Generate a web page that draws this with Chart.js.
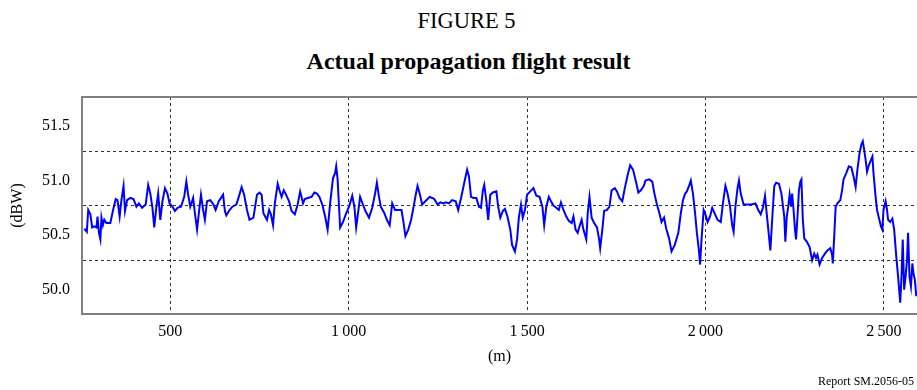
<!DOCTYPE html>
<html>
<head>
<meta charset="utf-8">
<script src="https://cdn.jsdelivr.net/npm/chart.js@4"></script>
<style>
  body { margin: 0; background: #fff; }
  #wrap { position: relative; width: 917px; height: 390px; font-family: 'Liberation Serif', 'Times New Roman', serif; color: #000; }
  #c { position: absolute; left: 0; top: 0; }
  .fig { position: absolute; left: 0; width: 933px; text-align: center; top: 9px; font-size: 22.5px; line-height: 24px; }
  .title { position: absolute; left: 0; width: 937px; text-align: center; top: 48px; font-size: 24px; line-height: 26px; font-weight: bold; }
  .note { position: absolute; right: 3px; top: 374px; font-size: 12px; line-height: 14px; }
</style>
</head>
<body>
<div id="wrap">
  <div class="fig">FIGURE 5</div>
  <div class="title">Actual propagation flight result</div>
  <canvas id="c" width="917" height="390"></canvas>
  <div class="note">Report SM.2056-05</div>
</div>
<script>
// distance along the flight (m)
const distance = [
  259, 266, 270, 276, 281, 287, 293, 296, 300, 304, 307, 311, 315, 321, 332, 339, 347, 352, 358, 363,
  369, 373, 379, 388, 397, 405, 412, 421, 431, 438, 444, 450, 455, 461, 466, 472, 478, 485, 492, 498,
  506, 513, 520, 530, 539, 545, 550, 556, 564, 569, 575, 580, 586, 592, 597, 603, 612, 621, 627, 636,
  648, 653, 657, 666, 674, 685, 692, 700, 707, 715, 722, 733, 743, 750, 756, 761, 771, 777, 782, 788,
  793, 801, 806, 812, 818, 823, 833, 840, 849, 857, 864, 868, 872, 877, 885, 896, 904, 911, 918, 926,
  934, 941, 948, 956, 962, 965, 969, 973, 976, 984, 993, 1002, 1010, 1016, 1021, 1027, 1032, 1040, 1047, 1057,
  1066, 1074, 1079, 1085, 1090, 1100, 1107, 1115, 1122, 1130, 1139, 1148, 1154, 1159, 1167, 1175, 1182, 1188, 1193, 1199,
  1206, 1215, 1227, 1234, 1240, 1249, 1257, 1266, 1273, 1281, 1290, 1300, 1307, 1315, 1324, 1332, 1337, 1343, 1350, 1358,
  1365, 1371, 1376, 1380, 1386, 1391, 1397, 1404, 1414, 1419, 1425, 1432, 1438, 1445, 1453, 1458, 1466, 1472, 1477, 1483,
  1488, 1494, 1500, 1509, 1518, 1526, 1535, 1543, 1548, 1554, 1561, 1567, 1574, 1582, 1589, 1595, 1602, 1610, 1617, 1625,
  1630, 1636, 1642, 1647, 1653, 1658, 1666, 1670, 1675, 1681, 1688, 1696, 1702, 1705, 1711, 1716, 1724, 1731, 1737, 1746,
  1752, 1759, 1767, 1774, 1782, 1789, 1797, 1806, 1812, 1819, 1827, 1832, 1842, 1851, 1857, 1864, 1871, 1877, 1884, 1890,
  1898, 1905, 1914, 1924, 1931, 1937, 1943, 1948, 1954, 1959, 1965, 1971, 1976, 1982, 1985, 1989, 1995, 2000, 2006, 2013,
  2019, 2027, 2034, 2043, 2049, 2056, 2062, 2069, 2075, 2079, 2084, 2090, 2094, 2099, 2107, 2116, 2129, 2140, 2148, 2155,
  2161, 2167, 2172, 2178, 2182, 2187, 2193, 2198, 2206, 2213, 2221, 2224, 2228, 2232, 2236, 2240, 2243, 2247, 2251, 2254,
  2258, 2262, 2266, 2269, 2273, 2277, 2284, 2292, 2299, 2305, 2310, 2314, 2320, 2327, 2335, 2342, 2350, 2355, 2357, 2361,
  2365, 2370, 2378, 2383, 2387, 2395, 2402, 2409, 2415, 2421, 2426, 2432, 2437, 2441, 2445, 2449, 2453, 2458, 2464, 2468,
  2471, 2477, 2481, 2486, 2492, 2496, 2499, 2505, 2509, 2512, 2518, 2524, 2529, 2535, 2540, 2546, 2550, 2553, 2557, 2561,
  2565, 2568, 2572, 2576, 2580, 2583, 2587, 2591
];

// received level (dBW)
const level = [
  50.54, 50.51, 50.71, 50.67, 50.55, 50.56, 50.55, 50.65, 50.50, 50.44, 50.64, 50.57, 50.62, 50.59, 50.59, 50.70, 50.81, 50.80, 50.65, 50.80,
  50.93, 50.70, 50.80, 50.82, 50.81, 50.74, 50.77, 50.73, 50.76, 50.94, 50.86, 50.73, 50.55, 50.74, 50.86, 50.62, 50.79, 50.91, 50.86, 50.77,
  50.74, 50.70, 50.73, 50.74, 50.83, 50.97, 50.85, 50.74, 50.82, 50.68, 50.53, 50.68, 50.85, 50.71, 50.62, 50.79, 50.80, 50.76, 50.71, 50.79,
  50.85, 50.70, 50.66, 50.71, 50.74, 50.76, 50.83, 50.92, 50.85, 50.71, 50.62, 50.64, 50.85, 50.87, 50.85, 50.68, 50.62, 50.71, 50.67, 50.57,
  50.77, 50.95, 50.89, 50.83, 50.89, 50.86, 50.79, 50.70, 50.67, 50.76, 50.88, 50.83, 50.77, 50.81, 50.82, 50.83, 50.87, 50.86, 50.83, 50.76,
  50.65, 50.53, 50.77, 51.00, 51.05, 51.11, 50.99, 50.74, 50.55, 50.60, 50.68, 50.75, 50.84, 50.74, 50.55, 50.70, 50.83, 50.76, 50.70, 50.64,
  50.73, 50.86, 50.96, 50.83, 50.74, 50.68, 50.62, 50.57, 50.77, 50.71, 50.71, 50.71, 50.59, 50.47, 50.53, 50.62, 50.74, 50.85, 50.93, 50.86,
  50.76, 50.79, 50.83, 50.82, 50.81, 50.76, 50.78, 50.77, 50.78, 50.77, 50.80, 50.79, 50.71, 50.82, 50.96, 51.08, 51.02, 50.83, 50.82, 50.82,
  50.74, 50.73, 50.89, 50.94, 50.79, 50.62, 50.85, 50.87, 50.88, 50.74, 50.64, 50.70, 50.72, 50.65, 50.53, 50.39, 50.33, 50.44, 50.64, 50.76,
  50.64, 50.71, 50.85, 50.88, 50.91, 50.84, 50.83, 50.74, 50.57, 50.74, 50.83, 50.79, 50.75, 50.73, 50.71, 50.78, 50.71, 50.65, 50.61, 50.59,
  50.65, 50.53, 50.50, 50.56, 50.62, 50.53, 50.44, 50.68, 50.83, 50.64, 50.59, 50.55, 50.44, 50.36, 50.53, 50.70, 50.71, 50.74, 50.89, 50.91,
  50.88, 50.82, 50.79, 50.91, 51.03, 51.12, 51.08, 50.96, 50.87, 50.89, 50.93, 50.98, 50.99, 50.97, 50.86, 50.76, 50.68, 50.60, 50.64, 50.54,
  50.45, 50.33, 50.39, 50.50, 50.68, 50.80, 50.86, 50.88, 50.93, 50.98, 50.86, 50.68, 50.50, 50.33, 50.21, 50.44, 50.71, 50.67, 50.60, 50.65,
  50.73, 50.67, 50.62, 50.60, 50.77, 50.93, 50.86, 50.74, 50.57, 50.51, 50.74, 50.91, 50.98, 50.86, 50.76, 50.76, 50.76, 50.77, 50.71, 50.67,
  50.73, 50.84, 50.67, 50.47, 50.34, 50.62, 50.93, 50.96, 50.95, 50.86, 50.65, 50.42, 50.65, 50.74, 50.85, 50.74, 50.86, 50.71, 50.53, 50.44,
  50.65, 50.89, 50.97, 50.99, 50.62, 50.45, 50.42, 50.37, 50.25, 50.31, 50.27, 50.30, 50.21, 50.27, 50.31, 50.34, 50.36, 50.30, 50.22, 50.47,
  50.74, 50.77, 50.80, 50.89, 50.99, 51.05, 51.11, 51.10, 51.02, 50.92, 51.08, 51.23, 51.31, 51.34, 51.26, 51.17, 51.06, 51.12, 51.17, 51.20,
  51.05, 50.83, 50.71, 50.64, 50.56, 50.53, 50.71, 50.79, 50.71, 50.62, 50.60, 50.63, 50.53, 50.28, 50.10, 49.86, 50.13, 50.44, 49.98, 50.10,
  50.25, 50.50, 50.10, 50.01, 50.22, 50.13, 50.07, 49.92
];

// axis ticks
const xTicks = [500, 1000, 1500, 2000, 2500];
const yLabelTicks = [50.0, 50.5, 51.0, 51.5];
const yGridTicks = [50.25, 50.75, 51.25];

const serif = "'Liberation Serif', 'Times New Roman', serif";
const points = distance.map((d, i) => ({ x: d, y: level[i] }));

new Chart(document.getElementById('c'), {
  type: 'line',
  data: {
    datasets: [{
      data: points,
      borderColor: '#0000ff',
      borderWidth: 2,
      pointRadius: 0,
      tension: 0,
      fill: false
    }]
  },
  options: {
    responsive: false,
    animation: false,
    layout: { padding: { top: 97, left: 0, right: 0, bottom: 0 } },
    plugins: { legend: { display: false }, tooltip: { enabled: false } },
    scales: {
      x: {
        type: 'linear',
        min: 252.5,
        max: 2593,
        afterFit: s => { s.height = 76; },
        afterBuildTicks: s => { s.ticks = xTicks.map(v => ({ value: v })); },
        grid: { color: '#333', lineWidth: 1, drawTicks: false },
        border: { color: '#808080', width: 2, dash: [3, 3] },
        ticks: {
          color: '#000',
          padding: 8,
          font: { size: 16, family: serif },
          callback: v => v >= 1000 ? Math.floor(v / 1000) + '\u2009' + String(v % 1000).padStart(3, '0') : String(v)
        },
        title: {
          display: true,
          text: '(m)',
          color: '#000',
          font: { size: 16, family: serif },
          padding: { top: 0, bottom: 24 }
        }
      },
      x2: {
        type: 'linear',
        position: 'top',
        min: 252.5,
        max: 2593,
        afterFit: s => { s.height = 0; },
        grid: { display: false, drawTicks: false },
        border: { color: '#808080', width: 2 },
        ticks: { display: false }
      },
      y: {
        min: 49.757,
        max: 51.745,
        afterFit: s => { s.width = 82; },
        afterBuildTicks: s => {
          s.ticks = yLabelTicks.concat(yGridTicks).sort((a, b) => a - b).map(v => ({ value: v }));
        },
        grid: {
          drawTicks: false,
          lineWidth: 1,
          color: ctx => (ctx.tick && yGridTicks.includes(ctx.tick.value)) ? '#333' : 'rgba(0,0,0,0)'
        },
        border: { color: '#808080', width: 2, dash: [3, 3] },
        ticks: {
          color: '#000',
          padding: 12,
          labelOffset: 2,
          font: { size: 16, family: serif },
          callback: v => yLabelTicks.includes(v) ? v.toFixed(1) : ''
        },
        title: {
          display: true,
          text: '(dBW)',
          color: '#000',
          font: { size: 16, family: serif },
          padding: { top: 8, bottom: 0 }
        }
      }
    }
  }
});
</script>
</body>
</html>
